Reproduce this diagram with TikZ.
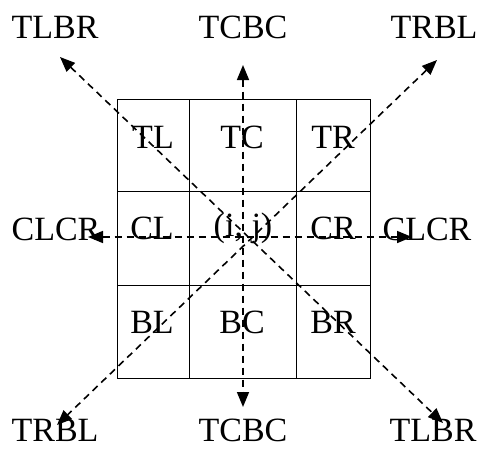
\documentclass[tikz,border=0pt]{standalone}
\usepackage{fontspec}
\setmainfont{Liberation Serif}
\usetikzlibrary{arrows.meta}
\begin{document}
\begin{tikzpicture}[x=1pt,y=-1pt,
  lbl/.style={font=\fontsize{34}{36}\selectfont, inner sep=0pt, anchor=center},
  cell/.style={draw=black, line width=1pt},
  dir/.style={dashed, dash pattern=on 7pt off 5pt, line width=1.6pt,
              {Triangle[length=15pt,width=12pt]}-{Triangle[length=15pt,width=12pt]}}]
  \useasboundingbox (0,0) rectangle (479,448);
  % 3x3 neighbourhood grid
  \draw[cell] (117,99) rectangle (189,191);
  \draw[cell] (189,99) rectangle (296,191);
  \draw[cell] (296,99) rectangle (370,191);
  \draw[cell] (117,191) rectangle (189,285);
  \draw[cell] (189,191) rectangle (296,285);
  \draw[cell] (296,191) rectangle (370,285);
  \draw[cell] (117,285) rectangle (189,378);
  \draw[cell] (189,285) rectangle (296,378);
  \draw[cell] (296,285) rectangle (370,378);
  % cell labels
  \node[lbl] (tl) at (153,137) {TL};
  \node[lbl] (tc) at (242,137) {TC};
  \node[lbl] (tr) at (333,137) {TR};
  \node[lbl] (cl) at (152,228) {CL};
  \node[lbl] (ij) at (243,228) {(i, j)};
  \node[lbl] (cr) at (333,228) {CR};
  \node[lbl] (bl) at (152,322) {BL};
  \node[lbl] (bc) at (242,322) {BC};
  \node[lbl] (br) at (333,322) {BR};
  % direction labels
  \node[lbl] (tlbrA) at (55,27) {TLBR};
  \node[lbl] (tcbcA) at (243,27) {TCBC};
  \node[lbl] (trblA) at (434,27) {TRBL};
  \node[lbl] (clcrA) at (56,229) {CLCR};
  \node[lbl] (clcrB) at (427,229) {CLCR};
  \node[lbl] (trblB) at (55,430) {TRBL};
  \node[lbl] (tcbcB) at (243,430) {TCBC};
  \node[lbl] (tlbrB) at (433,430) {TLBR};
  % arrow end points
  \coordinate (pTL) at (60,57);
  \coordinate (pBR) at (443,423);
  \coordinate (pTR) at (437,60);
  \coordinate (pBL) at (57,425);
  \coordinate (pT) at (243,65);
  \coordinate (pB) at (243,407);
  \coordinate (pL) at (88,237);
  \coordinate (pR) at (412,237);
  % direction lines
  \draw[dir] (pTL) -- (pBR);
  \draw[dir] (pTR) -- (pBL);
  \draw[dir] (pT) -- (pB);
  \draw[dir] (pL) -- (pR);
\end{tikzpicture}
\end{document}
